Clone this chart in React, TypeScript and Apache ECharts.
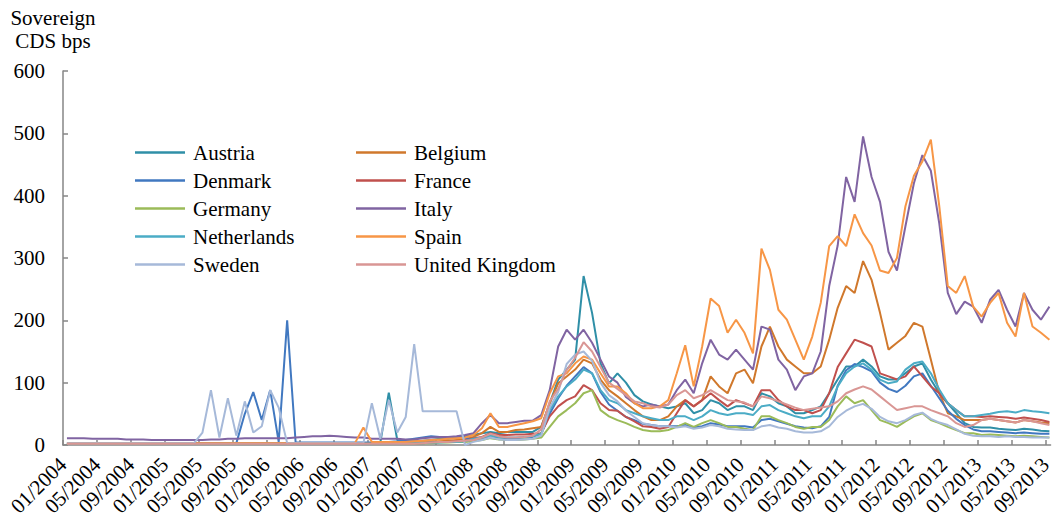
import React, { useEffect, useRef } from 'react';
import * as echarts from 'echarts';

const FONT = 'Liberation Serif';

// x-axis tick labels (every 4 months)
const xTickLabels = [
  '01/2004', '05/2004', '09/2004', '01/2005', '05/2005', '09/2005',
  '01/2006', '05/2006', '09/2006', '01/2007', '05/2007', '09/2007',
  '01/2008', '05/2008', '09/2008', '01/2009', '05/2009', '09/2009',
  '01/2010', '05/2010', '09/2010', '01/2011', '05/2011', '09/2011',
  '01/2012', '05/2012', '09/2012', '01/2013', '05/2013', '09/2013',
];

// monthly observations (mid-month), 01/2004 .. 09/2013
const START_YEAR = 2004;
const N_MONTHS = 117;
const months: string[] = [];
for (let i = 0; i < N_MONTHS; i++) {
  const y = START_YEAR + Math.floor(i / 12);
  const m = (i % 12) + 1;
  months.push(`${y}-${String(m).padStart(2, '0')}-15`);
}

const austria = [
  3, 3, 3, 3, 3, 3, 3, 3, 3, 3, 3, 3,
  3, 3, 3, 3, 3, 3, 3, 3, 3, 3, 3, 3,
  3, 3, 3, 3, 3, 3, 3, 3, 3, 3, 3, 3,
  3, 4, 84, 8, 6, 6, 7, 8, 10, 10, 12, 14,
  16, 19, 21, 19, 21, 21, 21, 21, 29, 67, 105, 121,
  137, 271, 212, 131, 99, 115, 100, 80, 70, 65, 62, 59,
  62, 67, 51, 56, 72, 67, 56, 62, 62, 56, 83, 78,
  67, 62, 51, 51, 56, 62, 83, 105, 126, 126, 137, 126,
  110, 105, 105, 115, 126, 131, 105, 83, 67, 51, 35, 29,
  28, 28, 26, 25, 24, 26, 25, 23, 22,
];

const belgium = [
  3, 3, 3, 3, 3, 3, 3, 3, 3, 3, 3, 3,
  3, 3, 3, 3, 3, 3, 3, 3, 3, 3, 3, 3,
  3, 3, 3, 3, 3, 3, 3, 3, 3, 3, 3, 3,
  3, 3, 3, 3, 3, 3, 4, 5, 6, 7, 8, 9,
  13, 19, 29, 21, 21, 24, 25, 27, 29, 67, 99, 110,
  121, 137, 131, 105, 88, 78, 67, 56, 46, 40, 40, 46,
  62, 72, 62, 72, 110, 94, 83, 115, 121, 99, 158, 190,
  158, 137, 126, 115, 115, 126, 169, 220, 255, 244, 295, 265,
  212, 153, 164, 175, 196, 190, 137, 83, 51, 46, 40, 40,
  40, 42, 40, 38, 36, 40, 38, 36, 35,
];

const denmark = [
  3, 3, 3, 3, 3, 3, 3, 3, 3, 3, 3, 3,
  3, 3, 3, 3, 3, 3, 3, 3, 3, 50, 85, 40,
  88, 5, 200, 4, 4, 4, 4, 4, 4, 4, 4, 4,
  4, 4, 5, 6, 8, 10, 12, 14, 13, 12, 12, 12,
  8, 10, 14, 12, 11, 11, 12, 13, 18, 50, 75, 95,
  110, 125, 115, 85, 65, 55, 45, 40, 34, 32, 30, 30,
  30, 32, 28, 30, 35, 33, 30, 30, 30, 28, 40, 42,
  38, 34, 30, 28, 27, 30, 45, 95, 120, 130, 125, 118,
  100, 90, 85, 95, 110, 115, 95, 75, 55, 42, 32, 25,
  22, 22, 21, 20, 19, 20, 19, 18, 18,
];

const france = [
  2, 2, 2, 2, 2, 2, 2, 2, 2, 2, 2, 2,
  2, 2, 2, 2, 2, 2, 2, 2, 2, 2, 2, 2,
  2, 2, 2, 2, 2, 2, 2, 2, 2, 2, 2, 2,
  2, 2, 2, 2, 2, 2, 3, 4, 5, 5, 6, 7,
  11, 13, 19, 16, 16, 17, 17, 18, 19, 46, 62, 72,
  78, 96, 88, 67, 56, 55, 45, 38, 30, 29, 26, 29,
  51, 72, 62, 72, 83, 72, 62, 72, 67, 62, 88, 88,
  72, 62, 56, 56, 51, 56, 83, 125, 147, 169, 164, 158,
  115, 110, 105, 110, 126, 110, 94, 83, 67, 56, 46, 46,
  45, 46, 45, 44, 42, 44, 42, 40, 37,
];

const germany = [
  2, 2, 2, 2, 2, 2, 2, 2, 2, 2, 2, 2,
  2, 2, 2, 2, 2, 2, 2, 2, 2, 2, 2, 2,
  2, 2, 2, 2, 2, 2, 2, 2, 2, 2, 2, 2,
  2, 2, 2, 2, 2, 2, 3, 3, 4, 4, 5, 5,
  6, 8, 11, 9, 8, 8, 9, 10, 12, 29, 46, 56,
  67, 83, 88, 56, 46, 40, 35, 29, 24, 22, 22, 24,
  29, 35, 29, 35, 40, 35, 29, 29, 26, 24, 46, 46,
  40, 35, 29, 26, 29, 29, 40, 62, 78, 67, 72, 56,
  40, 35, 29, 38, 46, 51, 40, 35, 29, 24, 19, 19,
  16, 17, 16, 15, 14, 15, 14, 13, 12,
];

const italy = [
  11, 11, 11, 10, 10, 10, 10, 9, 9, 9, 8, 8,
  8, 8, 8, 8, 8, 9, 9, 10, 10, 11, 11, 11,
  11, 11, 11, 12, 13, 14, 14, 15, 14, 13, 12, 12,
  10, 10, 10, 10, 9, 9, 11, 12, 13, 13, 14, 16,
  19, 35, 48, 35, 35, 37, 39, 39, 48, 88, 158, 185,
  169, 185, 164, 137, 110, 100, 77, 67, 62, 65, 62, 65,
  88, 105, 83, 131, 169, 145, 137, 153, 137, 121, 190, 185,
  137, 121, 88, 110, 115, 150, 255, 320, 430, 390, 495, 430,
  390, 310, 280, 351, 420, 465, 440, 355, 244, 210, 230, 222,
  196, 233, 249, 217, 190, 244, 217, 201, 222,
];

const netherlands = [
  2, 2, 2, 2, 2, 2, 2, 2, 2, 2, 2, 2,
  2, 2, 2, 2, 2, 2, 2, 2, 2, 2, 2, 2,
  2, 2, 2, 2, 2, 2, 2, 2, 2, 2, 2, 2,
  2, 2, 2, 2, 3, 3, 3, 4, 4, 5, 5, 6,
  10, 12, 15, 13, 12, 12, 13, 14, 18, 56, 78, 94,
  105, 121, 115, 88, 72, 67, 56, 51, 46, 43, 40, 40,
  46, 46, 40, 46, 56, 51, 48, 51, 51, 48, 62, 64,
  56, 51, 46, 43, 46, 46, 62, 94, 115, 126, 131, 121,
  105, 99, 102, 121, 131, 134, 115, 89, 67, 56, 46, 46,
  48, 50, 53, 54, 52, 56, 54, 53, 51,
];

const spain = [
  3, 3, 3, 3, 3, 3, 3, 3, 3, 3, 3, 3,
  3, 3, 3, 3, 3, 3, 3, 3, 3, 3, 3, 3,
  3, 3, 3, 3, 3, 3, 3, 3, 3, 3, 3, 28,
  5, 5, 5, 5, 5, 6, 7, 8, 9, 10, 11, 12,
  16, 27, 51, 29, 29, 32, 35, 38, 43, 83, 110, 115,
  131, 142, 137, 115, 94, 94, 83, 67, 59, 59, 62, 72,
  115, 160, 94, 158, 235, 223, 180, 201, 180, 147, 315, 281,
  217, 201, 169, 137, 174, 228, 319, 335, 319, 370, 340, 320,
  280, 276, 300, 383, 432, 455, 490, 383, 255, 244, 271, 222,
  206, 228, 244, 196, 174, 244, 190, 180, 169,
];

const sweden = [
  3, 3, 3, 3, 3, 3, 3, 3, 3, 3, 3, 3,
  3, 3, 3, 3, 20, 88, 12, 75, 15, 70, 20, 30,
  88, 60, 3, 3, 3, 3, 3, 3, 3, 3, 3, 3,
  67, 10, 72, 20, 45, 162, 54, 54, 54, 54, 54, 0,
  5, 8, 12, 9, 8, 8, 9, 10, 15, 60, 85, 130,
  145, 150, 135, 100, 80, 70, 55, 45, 35, 32, 30, 30,
  28, 30, 26, 28, 32, 30, 26, 25, 24, 24, 30, 32,
  28, 26, 22, 20, 20, 22, 30, 45, 55, 62, 66, 58,
  45, 38, 35, 40, 48, 52, 42, 36, 32, 25, 18, 15,
  14, 14, 13, 14, 13, 13, 12, 12, 12,
];

const unitedKingdom = [
  2, 2, 2, 2, 2, 2, 2, 2, 2, 2, 2, 2,
  2, 2, 2, 2, 2, 2, 2, 2, 2, 2, 2, 2,
  2, 2, 2, 2, 2, 2, 2, 2, 2, 2, 2, 2,
  2, 2, 2, 2, 2, 2, 3, 4, 5, 5, 6, 7,
  8, 12, 18, 14, 12, 12, 13, 15, 25, 70, 90, 120,
  140, 165, 150, 125, 100, 90, 80, 70, 67, 62, 60, 65,
  80, 88, 75, 80, 88, 80, 72, 70, 68, 62, 78, 75,
  70, 65, 60, 56, 58, 60, 62, 70, 83, 89, 94, 89,
  78, 67, 56, 59, 62, 62, 56, 51, 46, 35, 29, 32,
  40, 42, 40, 38, 36, 40, 38, 35, 32,
];

const seriesDefs = [
  { name: 'Austria', values: austria, color: '#2F8FA7' },
  { name: 'Belgium', values: belgium, color: '#D0782C' },
  { name: 'Denmark', values: denmark, color: '#4178C0' },
  { name: 'France', values: france, color: '#C0504D' },
  { name: 'Germany', values: germany, color: '#9BBB59' },
  { name: 'Italy', values: italy, color: '#8064A2' },
  { name: 'Netherlands', values: netherlands, color: '#4BACC6' },
  { name: 'Spain', values: spain, color: '#F79646' },
  { name: 'Sweden', values: sweden, color: '#A6B9D9' },
  { name: 'United Kingdom', values: unitedKingdom, color: '#D99694' },
];

const legendLeft = ['Austria', 'Denmark', 'Germany', 'Netherlands', 'Sweden'];
const legendRight = ['Belgium', 'France', 'Italy', 'Spain', 'United Kingdom'];

const dateToMonth = (d: string) => {
  const [y, m, day] = d.split('-').map(Number);
  return (y - START_YEAR) * 12 + (m - 1) + (day - 1) / 30;
};
const labelToMonth = (s: string) => {
  const [m, y] = s.split('/').map(Number);
  return (y - START_YEAR) * 12 + (m - 1);
};
const tickValues = xTickLabels.map(labelToMonth);
const labelByValue: Record<number, string> = {};
xTickLabels.forEach((l) => { labelByValue[labelToMonth(l)] = l; });

export default function App() {
  const ref = useRef<HTMLDivElement>(null);
  useEffect(() => {
    if (!ref.current) return;
    const chart = echarts.init(ref.current, undefined, { renderer: 'svg' });
    const axisColor = '#868686';
    const legendCommon = {
      orient: 'vertical',
      top: 142,
      padding: 0,
      itemWidth: 50,
      itemHeight: 2.5,
      itemGap: 7,
      icon: 'rect',
      textStyle: { fontFamily: FONT, fontSize: 21, color: '#000', padding: [0, 0, 0, 3] },
    };
    chart.setOption({
      animation: false,
      backgroundColor: '#fff',
      textStyle: { fontFamily: FONT },
      grid: { left: 63, right: 3, top: 71, bottom: 81, containLabel: false },
      graphic: [
        {
          type: 'text',
          x: 53,
          y: 6,
          style: {
            text: 'Sovereign\nCDS bps',
            fontFamily: FONT,
            fontSize: 21,
            fill: '#000',
            textAlign: 'center',
            lineHeight: 23,
          },
        },
      ],
      legend: [
        { ...legendCommon, left: 135, data: legendLeft },
        { ...legendCommon, left: 356, data: legendRight },
      ],
      xAxis: {
        type: 'value',
        min: 0,
        max: 116.6,
        interval: 4,
        axisLine: { show: true, lineStyle: { color: axisColor, width: 1.5 } },
        axisTick: {
          show: true,
          inside: true,
          length: 5,
          customValues: tickValues,
          lineStyle: { color: axisColor, width: 1.5 },
        },
        axisLabel: {
          customValues: tickValues,
          rotate: 45,
          margin: 16,
          fontFamily: FONT,
          fontSize: 21,
          color: '#000',
          formatter: (v: number) => labelByValue[Math.round(v)] ?? '',
        },
        splitLine: { show: false },
      },
      yAxis: {
        type: 'value',
        min: 0,
        max: 600,
        interval: 100,
        axisLine: { show: true, lineStyle: { color: axisColor, width: 1.5 } },
        axisTick: { show: true, inside: true, length: 5, lineStyle: { color: axisColor, width: 1.5 } },
        axisLabel: { margin: 18, fontFamily: FONT, fontSize: 21, color: '#000' },
        splitLine: { show: false },
      },
      series: seriesDefs.map((s) => ({
        name: s.name,
        type: 'line',
        data: s.values.map((v, i) => [dateToMonth(months[i]), v]),
        showSymbol: false,
        symbol: 'none',
        color: s.color,
        lineStyle: { color: s.color, width: 2 },
      })),
    });
    return () => chart.dispose();
  }, []);
  return (
    <div
      ref={ref}
      style={{ position: 'fixed', left: 0, top: 0, width: 1055, height: 526, background: '#fff' }}
    />
  );
}
